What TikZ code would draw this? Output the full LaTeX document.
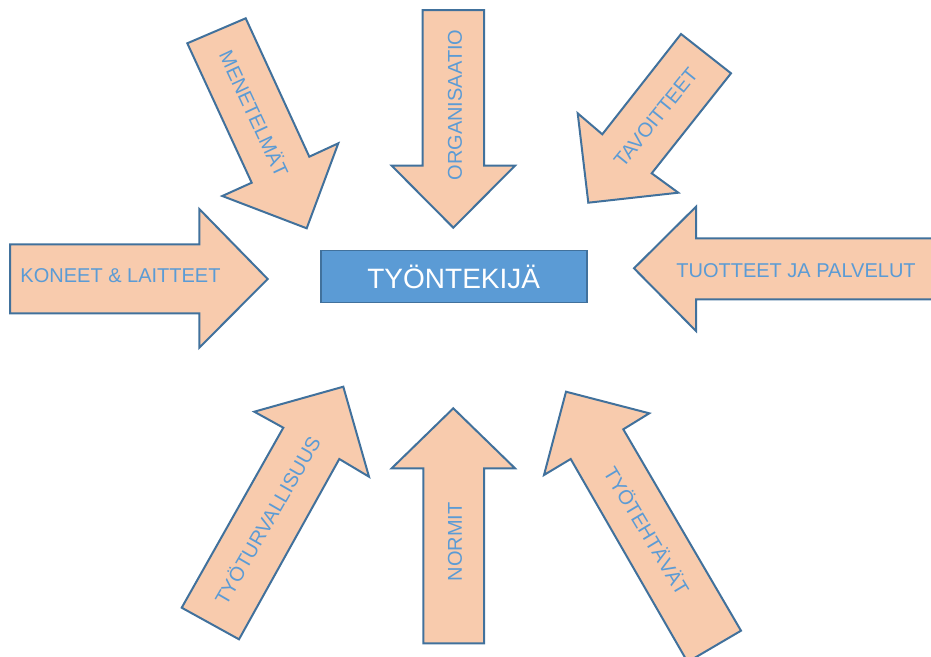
\documentclass[tikz,border=0pt]{standalone}
\usepackage{fontspec}
\setmainfont{Liberation Sans}
\definecolor{peach}{HTML}{F8CBAD}
\definecolor{edgeblue}{HTML}{41719C}
\definecolor{txtblue}{HTML}{5B9BD5}
\definecolor{boxblue}{HTML}{5B9BD5}
\tikzset{
  blockarrow/.style={fill=peach, draw=edgeblue, line width=2pt, line join=miter},
  arrowtext/.style={text=txtblue, font=\fontsize{20}{24}\selectfont, inner sep=0pt},
  centerbox/.style={fill=boxblue, draw=edgeblue, line width=1.8pt, minimum width=266pt, minimum height=52pt, text=white, font=\fontsize{28}{32}\selectfont}
}
\begin{document}
\begin{tikzpicture}[x=1pt,y=-1pt]
\useasboundingbox (0,0) rectangle (931,656);
\clip (0,0) rectangle (931,656);
% ORGANISAATIO (top, pointing down)
\draw[blockarrow] (422.7,10) -- (484,10) -- (484,165.7) -- (515,165.7) -- (453.3,227.7) -- (391.7,165.7) -- (422.7,165.7) -- cycle;
\node[arrowtext, rotate=90] (organisaatio) at (455,105) {ORGANISAATIO};
% MENETELMÄT
\draw[blockarrow] (187.3,43.3) -- (245.7,18.3) -- (309.3,156.7) -- (338.3,143.3) -- (306.7,228.3) -- (222.3,196) -- (251.7,182.7) -- cycle;
\node[arrowtext, rotate=-65] (menetelmat) at (255,113.3) {MENETELMÄT};
% TAVOITTEET
\draw[blockarrow] (681,34) -- (731,73.3) -- (651.7,173.3) -- (678.3,192.7) -- (588.3,202.7) -- (577.7,113.3) -- (602.3,134.3) -- cycle;
\node[arrowtext, rotate=51] (tavoitteet) at (655.8,117.5) {TAVOITTEET};
% KONEET & LAITTEET
\draw[blockarrow] (10,244.3) -- (199.3,244.3) -- (199.3,209) -- (267.7,279) -- (199.3,347.7) -- (199.3,313.3) -- (10,313.3) -- cycle;
\node[arrowtext] (koneet) at (120.5,276) {KONEET \& LAITTEET};
% TUOTTEET JA PALVELUT
\draw[blockarrow] (950,238.3) -- (696,238.3) -- (696,206.7) -- (634,268.3) -- (696,331) -- (696,299.3) -- (950,299.3);
\node[arrowtext] (tuotteet) at (796,271) {TUOTTEET JA PALVELUT};
% NORMIT (bottom, pointing up)
\draw[blockarrow] (453.3,408.3) -- (515,468.3) -- (484,468.3) -- (484,643.3) -- (423.3,643.3) -- (423.3,468.3) -- (391.7,468.3) -- cycle;
\node[arrowtext, rotate=90] (normit) at (455,541.7) {NORMIT};
% TYÖTURVALLISUUS
\draw[blockarrow] (181.7,607.7) -- (283.3,427.7) -- (254.3,411.7) -- (343.3,386.7) -- (369,476.7) -- (339.3,459) -- (239,639.3) -- cycle;
\node[arrowtext, rotate=60] (tyoturvallisuus) at (266.7,520) {TYÖTURVALLISUUS};
% TYÖTEHTÄVÄT
\draw[blockarrow] (687.6,662) -- (570.7,459) -- (544,475) -- (566,391.7) -- (649.3,413.3) -- (623.3,429.3) -- (741,630.7) -- cycle;
\node[arrowtext, rotate=-59] (tyotehtavat) at (647.5,530.8) {TYÖTEHTÄVÄT};
% centre
\node[centerbox] (tyontekija) at (453.7,276.5) {TYÖNTEKIJÄ};
\end{tikzpicture}
\end{document}
